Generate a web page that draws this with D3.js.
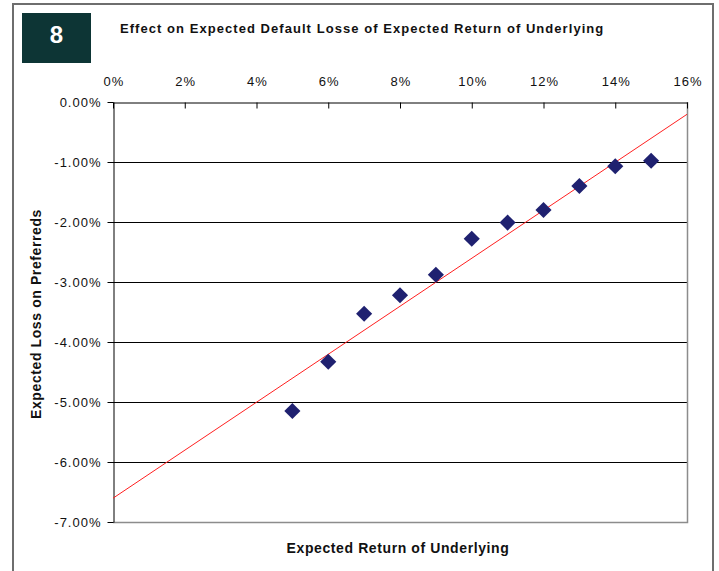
<!DOCTYPE html>
<html>
<head>
<meta charset="utf-8">
<script src="https://cdn.jsdelivr.net/npm/d3@7"></script>
<style>
  body { margin: 0; background: #fff; }
  svg { display: block; font-family: "Liberation Sans", Arial, sans-serif; }
</style>
</head>
<body>
<div id="chart"></div>
<script>
// expected return of underlying (%)
var returns = [5, 6, 7, 8, 9, 10, 11, 12, 13, 14, 15];
// expected loss on preferreds (%)
var losses = [-5.15, -4.33, -3.53, -3.22, -2.88, -2.28, -2.01, -1.80, -1.40, -1.07, -0.98];
var xTicks = [0, 2, 4, 6, 8, 10, 12, 14, 16];
var yTicks = [0, -1, -2, -3, -4, -5, -6, -7];

var width = 719, height = 571;
var svg = d3.select("#chart").append("svg")
  .attr("width", width).attr("height", height);

// outer frame
svg.append("rect")
  .attr("x", 13).attr("y", 4).attr("width", 700).attr("height", 620)
  .attr("fill", "none").attr("stroke", "#6e6e6e").attr("stroke-width", 2);

// number badge
svg.append("rect")
  .attr("x", 22).attr("y", 13).attr("width", 69).attr("height", 50)
  .attr("fill", "#0d3535");
svg.append("text")
  .attr("x", 56.5).attr("y", 43)
  .attr("text-anchor", "middle").attr("fill", "#fff")
  .style("font-size", "24px").style("font-weight", "bold")
  .text("8");

svg.append("text")
  .attr("x", 120).attr("y", 33)
  .style("font-size", "13px").style("font-weight", "bold")
  .style("letter-spacing", "1.05px")
  .attr("fill", "#111")
  .text("Effect on Expected Default Losse of Expected Return of Underlying");

// plot area
var x0 = 113, x1 = 687, y0 = 102, y1 = 522;
var x = d3.scaleLinear().domain([0, 16]).range([x0, x1]);
var y = d3.scaleLinear().domain([0, -7]).range([y0, y1]);

// horizontal gridlines
svg.append("g").selectAll("line")
  .data(yTicks.filter(function (d) { return d < 0 && d > -7; }))
  .enter().append("line")
  .attr("x1", x0).attr("x2", x1)
  .attr("y1", function (d) { return Math.round(y(d)) + 0.5; })
  .attr("y2", function (d) { return Math.round(y(d)) + 0.5; })
  .attr("stroke", "#000").attr("stroke-width", 1.2);

// plot border (right and bottom, grey)
svg.append("path")
  .attr("d", "M" + (x1 + 0.5) + "," + y0 + "V" + (y1 + 0.5) + "H" + x0)
  .attr("fill", "none").attr("stroke", "#8c8c8c").attr("stroke-width", 1.5);

var tickFont = function (sel) {
  sel.style("font-size", "13px").attr("fill", "#111")
    .style("letter-spacing", "1px")
    .style("font-family", "'Liberation Sans', Arial, sans-serif");
};

// top axis (x)
var xAxis = d3.axisTop(x).tickValues(xTicks)
  .tickFormat(function (d) { return d + "%"; })
  .tickSizeInner(-6).tickSizeOuter(0).tickPadding(17);
var gx = svg.append("g").attr("transform", "translate(0," + (y0 + 0.5) + ")").call(xAxis);
gx.select(".domain").attr("stroke", "#000");
gx.selectAll(".tick line").attr("stroke", "#000");
gx.selectAll(".tick text").call(tickFont).attr("dx", "0.5px");

// left axis (y)
var yAxis = d3.axisLeft(y).tickValues(yTicks)
  .tickFormat(function (d) { return d.toFixed(2) + "%"; })
  .tickSizeInner(6).tickSizeOuter(0).tickPadding(6);
var gy = svg.append("g").attr("transform", "translate(" + (x0 + 0.5) + ",0)").call(yAxis);
gy.select(".domain").attr("stroke", "#000");
gy.selectAll(".tick line").attr("stroke", "#000");
gy.selectAll(".tick text").call(tickFont);

// linear trendline (least squares)
var mx = d3.mean(returns), my = d3.mean(losses);
var sxy = d3.sum(returns, function (r, i) { return (r - mx) * (losses[i] - my); });
var sxx = d3.sum(returns, function (r) { return (r - mx) * (r - mx); });
var slope = sxy / sxx, icpt = my - slope * mx;
svg.append("line")
  .attr("x1", x(0)).attr("y1", y(icpt))
  .attr("x2", x(16)).attr("y2", y(icpt + slope * 16))
  .attr("stroke", "#ff2020").attr("stroke-width", 1);

// data markers
var diamond = d3.symbol().type(d3.symbolSquare).size(130);
svg.append("g").selectAll("path")
  .data(returns)
  .enter().append("path")
  .attr("d", diamond)
  .attr("transform", function (d, i) {
    return "translate(" + x(d) + "," + y(losses[i]) + ") rotate(45)";
  })
  .attr("fill", "#1f2170");

// axis titles
svg.append("text")
  .attr("transform", "translate(41," + ((y0 + y1) / 2 + 2) + ") rotate(-90)")
  .attr("text-anchor", "middle")
  .style("font-size", "14px").style("font-weight", "bold")
  .style("letter-spacing", "0.6px").attr("fill", "#111")
  .text("Expected Loss on Preferreds");
svg.append("text")
  .attr("x", 398).attr("y", 553)
  .attr("text-anchor", "middle")
  .style("font-size", "14px").style("font-weight", "bold")
  .style("letter-spacing", "0.6px").attr("fill", "#111")
  .text("Expected Return of Underlying");
</script>
</body>
</html>
